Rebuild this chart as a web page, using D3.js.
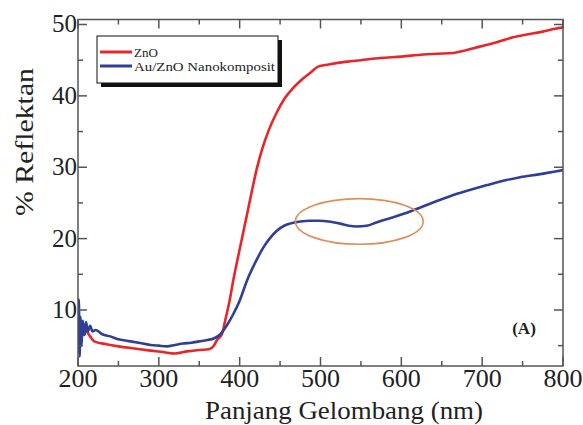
<!DOCTYPE html>
<html>
<head>
<meta charset="utf-8">
<script src="https://cdn.jsdelivr.net/npm/d3@7"></script>
<style>
  body { margin: 0; background: #fff; }
  text { font-family: "Liberation Serif", "Times New Roman", serif; }
</style>
</head>
<body>
<div id="chart"></div>
<script>
// Reflectance spectra
var znoNm = [200, 202, 204, 207, 210, 215, 220, 235, 250, 270, 290, 305, 320, 335, 350, 362, 368, 372, 378,
    382, 387, 392, 400, 408, 415, 421, 428, 436, 446, 456, 466, 476, 487, 497, 510, 533, 550, 574, 600,
    627, 645, 664, 680, 697, 718, 738, 755, 775, 790, 800];
var znoR = [8.0, 5.6, 7.4, 6.5, 7.0, 6.3, 5.6, 5.2, 4.9, 4.6, 4.3, 4.1, 3.9, 4.2, 4.4, 4.5, 5.0, 5.8, 6.6,
    8.5, 11.0, 14.1, 18.5, 22.8, 26.6, 29.7, 32.6, 35.2, 37.7, 39.7, 41.1, 42.2, 43.2, 44.1, 44.4, 44.8, 45.0, 45.3, 45.5,
    45.8, 45.9, 46.0, 46.4, 46.9, 47.5, 48.2, 48.6, 49.0, 49.4, 49.6];

var auNm = [200, 201, 202, 203, 204, 206, 208, 210, 212, 215, 218, 222, 230, 240, 250, 260, 275, 290, 300,
    310, 320, 330, 340, 350, 360, 368, 376, 385, 392, 400, 409, 420, 429, 437, 446, 455, 462, 475, 487,
    499, 510, 524, 535, 545, 557, 570, 590, 611, 640, 669, 690, 706, 730, 747, 770, 800];
var auR = [4.0, 11.5, 3.5, 9.0, 5.0, 8.5, 6.5, 8.3, 7.0, 7.8, 7.0, 7.2, 6.6, 6.3, 5.9, 5.7, 5.4, 5.1, 5.0,
    4.9, 5.1, 5.3, 5.4, 5.6, 5.8, 6.0, 6.6, 8.0, 9.4, 11.3, 14.1, 16.8, 18.7, 20.0, 21.1, 21.8, 22.1, 22.4, 22.5,
    22.5, 22.4, 22.1, 21.8, 21.7, 21.8, 22.3, 23.0, 23.8, 25.1, 26.3, 27.0, 27.5, 28.2, 28.6, 29.0, 29.6];

var seriesNames = ["ZnO", "Au/ZnO Nanokomposit"];
var seriesColors = ["#e8262a", "#2f3f98"];
var xTicks = [200, 300, 400, 500, 600, 700, 800];
var xMinor = [250, 350, 450, 550, 650, 750];
var yTicks = [10, 20, 30, 40, 50];
var yMinor = [5, 15, 25, 35, 45];

var width = 583, height = 425;
// plot frame edges in pixels
var pLeft = 78, pRight = 563, pTop = 19.5, pBottom = 366;

var svg = d3.select("#chart").append("svg")
    .attr("width", width)
    .attr("height", height);

var x = d3.scaleLinear().domain([200, 800]).range([pLeft, pRight]);
var y = d3.scaleLinear().domain([2.15, 50.7]).range([pBottom, pTop]);

svg.append("clipPath").attr("id", "clip")
    .append("rect")
    .attr("x", pLeft).attr("y", pTop)
    .attr("width", pRight - pLeft).attr("height", pBottom - pTop);

// curves
var line = d3.line()
    .x(d => x(d[0]))
    .y(d => y(d[1]))
    .curve(d3.curveMonotoneX);

var series = [d3.zip(znoNm, znoR), d3.zip(auNm, auR)];

svg.append("g").attr("clip-path", "url(#clip)")
    .selectAll("path")
    .data(series)
    .enter().append("path")
    .attr("d", line)
    .attr("fill", "none")
    .attr("stroke", (d, i) => seriesColors[i])
    .attr("stroke-width", 2.6)
    .attr("stroke-linejoin", "round");

// annotation ellipse around the plasmon dip
svg.append("ellipse")
    .attr("cx", x(548))
    .attr("cy", y(22.4))
    .attr("rx", x(548 + 79) - x(548))
    .attr("ry", y(22.4) - y(25.6))
    .attr("fill", "none")
    .attr("stroke", "#df8f5a")
    .attr("stroke-width", 1.6);

// frame + inward ticks on all sides
var axisColor = "#555";
svg.append("rect")
    .attr("x", pLeft).attr("y", pTop)
    .attr("width", pRight - pLeft).attr("height", pBottom - pTop)
    .attr("fill", "none")
    .attr("stroke", axisColor)
    .attr("stroke-width", 1.5);

function ticksOnX(vals, len) {
    vals.forEach(function (v) {
        svg.append("line").attr("x1", x(v)).attr("x2", x(v)).attr("y1", pBottom).attr("y2", pBottom - len)
            .attr("stroke", axisColor).attr("stroke-width", 1.5);
        svg.append("line").attr("x1", x(v)).attr("x2", x(v)).attr("y1", pTop).attr("y2", pTop + len)
            .attr("stroke", axisColor).attr("stroke-width", 1.5);
    });
}
function ticksOnY(vals, len) {
    vals.forEach(function (v) {
        svg.append("line").attr("x1", pLeft).attr("x2", pLeft + len).attr("y1", y(v)).attr("y2", y(v))
            .attr("stroke", axisColor).attr("stroke-width", 1.5);
        svg.append("line").attr("x1", pRight).attr("x2", pRight - len).attr("y1", y(v)).attr("y2", y(v))
            .attr("stroke", axisColor).attr("stroke-width", 1.5);
    });
}
ticksOnX(xTicks, 9);
ticksOnX(xMinor, 5);
ticksOnY(yTicks, 9);
ticksOnY(yMinor, 5);

// tick labels
svg.append("g").selectAll("text")
    .data(xTicks)
    .enter().append("text")
    .attr("x", d => x(d))
    .attr("y", 387)
    .attr("text-anchor", "middle")
    .style("font-size", "26px")
    .attr("fill", "#222")
    .text(d => d);

svg.append("g").selectAll("text")
    .data(yTicks)
    .enter().append("text")
    .attr("x", pLeft - 1)
    .attr("y", d => y(d) + 8)
    .attr("text-anchor", "end")
    .style("font-size", "25px")
    .attr("fill", "#222")
    .text(d => d);

// axis titles
svg.append("text")
    .attr("x", 344)
    .attr("y", 419)
    .attr("text-anchor", "middle")
    .style("font-size", "25px")
    .attr("textLength", 278)
    .attr("lengthAdjust", "spacingAndGlyphs")
    .attr("fill", "#222")
    .text("Panjang Gelombang (nm)");

svg.append("text")
    .attr("transform", "translate(33, 142) rotate(-90)")
    .attr("text-anchor", "middle")
    .style("font-size", "25px")
    .attr("textLength", 148)
    .attr("lengthAdjust", "spacingAndGlyphs")
    .attr("fill", "#222")
    .text("% Reflektan");

// panel label
svg.append("text")
    .attr("x", 524)
    .attr("y", 334)
    .attr("text-anchor", "middle")
    .style("font-size", "17px")
    .style("font-weight", "bold")
    .attr("fill", "#222")
    .text("(A)");

// legend with drop shadow
var lg = svg.append("g");
lg.append("rect")
    .attr("x", 101).attr("y", 40).attr("width", 181).attr("height", 47)
    .attr("fill", "#111");
lg.append("rect")
    .attr("x", 97).attr("y", 36).attr("width", 181).attr("height", 47)
    .attr("fill", "#fff").attr("stroke", "#111").attr("stroke-width", 1);

seriesNames.forEach(function (name, i) {
    var ly = 52 + i * 14;
    lg.append("line")
        .attr("x1", 100).attr("x2", 132).attr("y1", ly).attr("y2", ly)
        .attr("stroke", seriesColors[i]).attr("stroke-width", 3);
    var t = lg.append("text")
        .attr("x", 134).attr("y", ly + 4.5)
        .style("font-size", "13px")
        .attr("fill", "#222")
        .text(name);
    if (i === 1) t.attr("textLength", 141).attr("lengthAdjust", "spacingAndGlyphs");
});
</script>
</body>
</html>
